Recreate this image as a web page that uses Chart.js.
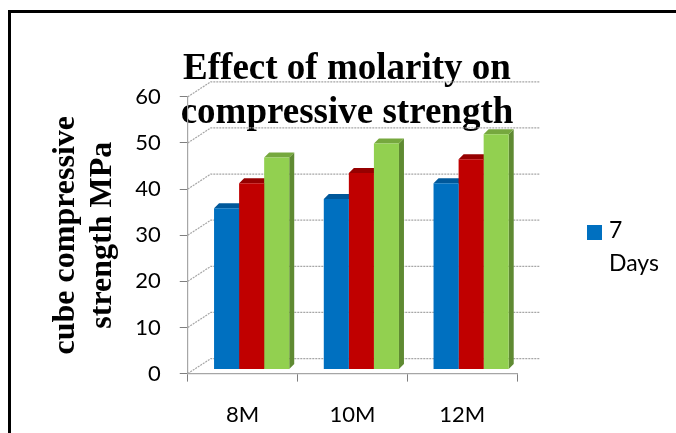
<!DOCTYPE html>
<html>
<head>
<meta charset="utf-8">
<style>
  html, body { margin: 0; padding: 0; background: #fff; }
  #wrap { width: 676px; height: 433px; position: relative; overflow: hidden; }
</style>
<script src="https://cdn.jsdelivr.net/npm/chart.js@4/dist/chart.umd.min.js"></script>
</head>
<body>
<div id="wrap"><canvas id="grafico" width="676" height="433"></canvas></div>
<script>
// Data
const categorias = ['8M', '10M', '12M'];
const dias7 = [35, 37, 40.4];
const dias14 = [40.4, 42.6, 45.6];
const dias28 = [46, 49, 51];

const coresFrente = ['#0070C0', '#C00000', '#92D050'];
const coresTopo = ['#00589A', '#960000', '#76A83E'];
const coresLado = ['#005088', '#8A0000', '#5F8A32'];

// bars sit in the middle of the 3D floor
const barraDx = 9, barraDy = -4;
const prof = 5;
const paredeDx = 23, paredeDy = -15;

// Back wall, border and legend
const plugin3d = {
    id: 'plugin3d',
    afterLayout(chart) {
        // title is centred over the whole frame, not the plot
        const largura = chart.titleBlock.right - chart.titleBlock.left;
        chart.titleBlock.left = 347 - largura / 2;
        chart.titleBlock.right = 347 + largura / 2;
    },
    beforeDatasetsDraw(chart) {
        const ctx = chart.ctx;
        const { x, y } = chart.scales;

        ctx.save();
        ctx.strokeStyle = '#a6a6a6';
        ctx.lineWidth = 1.2;
        ctx.setLineDash([2, 1]);
        y.ticks.forEach(t => {
            const py = y.getPixelForValue(t.value);
            ctx.beginPath();
            ctx.moveTo(x.left, py);
            ctx.lineTo(x.left + paredeDx, py + paredeDy);
            ctx.lineTo(x.right + paredeDx, py + paredeDy);
            ctx.stroke();
        });
        ctx.restore();

        // top and side of each bar, fronts go over them
        ctx.save();
        ctx.translate(barraDx, barraDy);
        chart.data.datasets.forEach((ds, i) => {
            chart.getDatasetMeta(i).data.forEach(b => {
                const esq = b.x - b.width / 2, dir = b.x + b.width / 2;
                ctx.fillStyle = coresLado[i];
                ctx.beginPath();
                ctx.moveTo(dir, b.y);
                ctx.lineTo(dir + prof, b.y - prof);
                ctx.lineTo(dir + prof, b.base - prof);
                ctx.lineTo(dir, b.base);
                ctx.closePath();
                ctx.fill();
                ctx.fillStyle = coresTopo[i];
                ctx.beginPath();
                ctx.moveTo(esq, b.y);
                ctx.lineTo(esq + prof, b.y - prof);
                ctx.lineTo(dir + prof, b.y - prof);
                ctx.lineTo(dir, b.y);
                ctx.closePath();
                ctx.fill();
            });
        });
        ctx.restore();

        ctx.save();
        ctx.translate(barraDx, barraDy);
    },
    afterDatasetsDraw(chart) {
        chart.ctx.restore();
    },
    afterDraw(chart) {
        const ctx = chart.ctx;
        ctx.save();
        // page frame, only left and top are in the picture
        ctx.strokeStyle = '#000';
        ctx.lineWidth = 3;
        ctx.beginPath();
        ctx.moveTo(9.5, 433);
        ctx.lineTo(9.5, 11.5);
        ctx.lineTo(676, 11.5);
        ctx.stroke();
        // legend only shows the first series
        ctx.fillStyle = coresFrente[0];
        ctx.fillRect(587, 225, 15, 15);
        ctx.fillStyle = '#000';
        ctx.font = '23px Lato';
        ctx.textBaseline = 'middle';
        ctx.fillText('7', 609, 231);
        ctx.fillText('Days', 609, 264);
        ctx.restore();
    }
};

new Chart(document.getElementById('grafico'), {
    type: 'bar',
    data: {
        labels: categorias,
        datasets: [
            { label: '7 Days', data: dias7, backgroundColor: coresFrente[0] },
            { label: '14 Days', data: dias14, backgroundColor: coresFrente[1] },
            { label: '28 Days', data: dias28, backgroundColor: coresFrente[2] }
        ]
    },
    plugins: [plugin3d],
    options: {
        responsive: false,
        animation: false,
        devicePixelRatio: 1,
        layout: { padding: { top: 47, left: 47, right: 159, bottom: -15 } },
        datasets: { bar: { barPercentage: 1, categoryPercentage: 0.685 } },
        plugins: {
            legend: { display: false },
            tooltip: { enabled: false },
            title: {
                display: true,
                text: ['Effect of molarity on', 'compressive strength'],
                color: '#000',
                align: 'center',
                font: { family: 'Liberation Serif', size: 37, weight: 'bold', lineHeight: 1.2 },
                padding: { top: 0, bottom: -39 }
            }
        },
        scales: {
            x: {
                grid: { drawOnChartArea: false, offset: true, color: '#7f7f7f', tickLength: 8, tickColor: '#7f7f7f' },
                border: { color: '#a6a6a6', dash: [2, 1], width: 1.2 },
                ticks: { color: '#000', padding: 20, maxRotation: 0, font: { family: 'Lato', size: 22 } }
            },
            y: {
                min: 0,
                max: 60,
                grid: { drawOnChartArea: false, color: '#7f7f7f', tickLength: 8, tickColor: '#7f7f7f' },
                border: { color: '#a6a6a6', dash: [3, 1], width: 1.2 },
                ticks: { stepSize: 10, color: '#000', padding: 19, font: { family: 'Lato', size: 22 } },
                title: {
                    display: true,
                    text: ['cube compressive', 'strength MPa'],
                    color: '#000',
                    font: { family: 'Liberation Serif', size: 32, weight: 'bold', lineHeight: 1.16 },
                    padding: { top: 0, bottom: -5 }
                }
            }
        }
    }
});
</script>
</body>
</html>
